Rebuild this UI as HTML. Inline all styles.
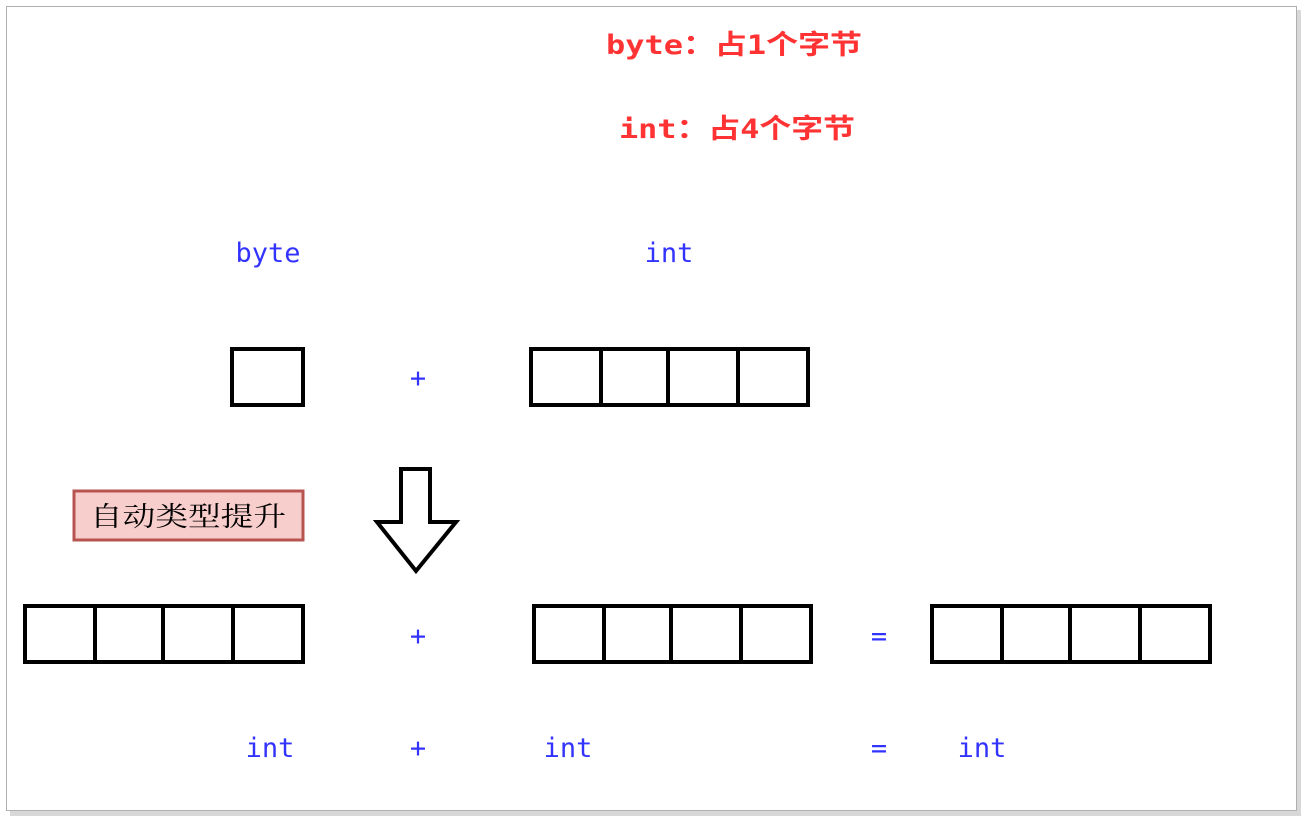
<!DOCTYPE html>
<html><head><meta charset="utf-8"><style>
html,body{margin:0;padding:0;background:#fff;width:1307px;height:824px;overflow:hidden}
</style></head><body>
<svg width="1307" height="824" xmlns="http://www.w3.org/2000/svg">
<rect x="0" y="0" width="1307" height="824" fill="#fff"/>
<rect x="10" y="10" width="1291" height="806" fill="#d8d8d8"/>
<rect x="6.5" y="6.5" width="1290" height="804" fill="#fff" stroke="#b0b0b0" stroke-width="1"/>
<g font-family="'DejaVu Sans Mono','Noto Sans CJK SC',monospace" font-weight="bold" font-size="27" fill="#ff3333">
<text x="606" y="54" textLength="256" lengthAdjust="spacingAndGlyphs">byte：占1个字节</text>
<text x="619" y="138" textLength="236" lengthAdjust="spacingAndGlyphs">int：占4个字节</text>
</g>
<g font-family="'DejaVu Sans Mono',monospace" font-size="27" fill="#3333ff" text-anchor="middle">
<text x="268" y="262">byte</text>
<text x="669" y="262">int</text>
<text x="418" y="387">+</text>
<text x="418" y="645">+</text>
<text x="879" y="645">=</text>
<text x="270" y="757">int</text>
<text x="418" y="757">+</text>
<text x="568" y="757">int</text>
<text x="879" y="757">=</text>
<text x="982" y="757">int</text>
</g>
<g fill="none" stroke="#000" stroke-width="4">
<rect x="232" y="349" width="71" height="56"/>
<rect x="531" y="349" width="277" height="56"/><path d="M601 349V405M668 349V405M738 349V405"/>
<rect x="25" y="606" width="278" height="56"/><path d="M95 606V662M163 606V662M233 606V662"/>
<rect x="534" y="606" width="277" height="56"/><path d="M604 606V662M671 606V662M741 606V662"/>
<rect x="932" y="606" width="278" height="56"/><path d="M1002 606V662M1070 606V662M1140 606V662"/>
<path d="M401 469H430V522H456L416 571L377 522H401Z" stroke-linejoin="miter" fill="#fff"/>
</g>
<rect x="74" y="491" width="229" height="49" fill="#f8cecc" stroke="#b85450" stroke-width="3"/>
<text x="188" y="526" text-anchor="middle" font-family="'Noto Serif CJK SC','Noto Sans CJK SC',serif" font-size="27" fill="#000" textLength="196" lengthAdjust="spacingAndGlyphs">自动类型提升</text>
</svg>
</body></html>
